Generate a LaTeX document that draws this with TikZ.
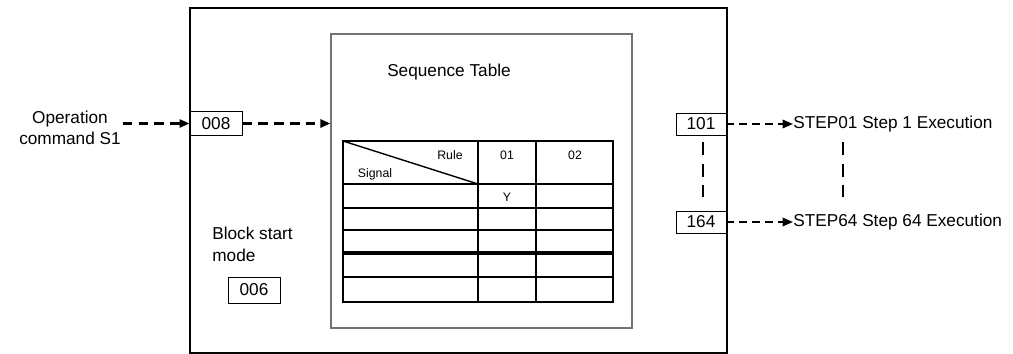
\documentclass[tikz,border=0pt]{standalone}
\usepackage{fontspec}
\setmainfont{Liberation Sans}
\usetikzlibrary{arrows.meta, positioning, calc}
\tikzset{
  every picture/.style={font=\fontsize{9.8}{12}\selectfont},
  numbox/.style={draw, line width=0.5pt, inner sep=0pt, minimum width=#1, minimum height=0.48cm},
  numbox/.default=1.04cm,
  frame/.style={draw, line width=0.9pt, inner sep=0pt},
  tblline/.style={line width=1.1pt},
  small/.style={font=\fontsize{7}{8}\selectfont, inner sep=0pt},
  inarrow/.style={-{Triangle[length=2mm, width=1.6mm]}, line width=1.5pt, dash pattern=on 5.5pt off 3.5pt},
  outarrow/.style={-{Triangle[length=2.1mm, width=1.7mm]}, line width=1pt, dash pattern=on 4.5pt off 2.8pt},
  vdots/.style={line width=1.5pt, dash pattern=on 7.4pt off 4.6pt},
}

\begin{document}
\begin{tikzpicture}[x=0.02cm, y=-0.02cm]
  \useasboundingbox (0,0) rectangle (1013,354);
  % block and sequence table frames
  \node[frame, minimum width=10.74cm, minimum height=6.9cm] (blk) at (458.5,180.5) {};
  \node[frame, draw=black!55, line width=0.7pt, minimum width=6.02cm, minimum height=5.88cm] (seq) at (481.5,181) {};
  \node (seqlbl) at (449,72) {Sequence Table};
  % the table
  \draw[tblline] (343,141) rectangle (613,302);
  \foreach \y in {184,208,230,277} \draw[tblline] (343,\y) -- (613,\y);
  \draw[tblline, line width=2pt] (343,253) -- (613,253);
  \foreach \x in {478,536} \draw[tblline] (\x,141) -- (\x,302);
  \draw[line width=0.8pt] (343,141) -- (478,184);
  \node[small] (rule) at (450,155) {Rule};
  \node[small] (sig) at (375,174) {Signal};
  \node[small] (c01) at (507,155) {01};
  \node[small] (c02) at (575,155) {02};
  \node[small] (y01) at (507,197) {Y};
  % input side
  \node[align=center, inner sep=1pt] (op) at (70,128) {Operation\\command S1};
  \node[numbox] (b008) at (216,123.5) {008};
  \draw[inarrow] (op.east |- b008) -- (b008.west);
  \draw[inarrow] (b008.east) -- (b008 -| seq.west);
  \node[align=left, anchor=west, inner sep=0pt, font=\fontsize{9.8}{12.6}\selectfont] (bsm) at (212,244) {Block start\\mode};
  \node[numbox, minimum height=0.52cm] (b006) at (254,290) {006};
  % output side
  \node[numbox=1.0cm, minimum height=0.44cm] (b101) at (701,124) {101};
  \node[numbox=1.0cm, minimum height=0.44cm] (b164) at (701,222) {164};
  \node[anchor=west, inner sep=0pt] (st1) at (793,124) {STEP01 Step 1 Execution};
  \node[anchor=west, inner sep=0pt] (st64) at (793,222) {STEP64 Step 64 Execution};
  \draw[outarrow] (b101.east) -- (st1.west);
  \draw[outarrow] (b164.east) -- (st64.west);
  \draw[vdots] ([xshift=0.04cm, yshift=-0.14cm]b101.south) -- ([xshift=0.04cm, yshift=0.28cm]b164.north);
  \draw[vdots] ([xshift=1cm]st1.west |- b101.south) ++(0,7) -- ([xshift=1cm, yshift=0.28cm]st64.west |- b164.north);
\end{tikzpicture}
\end{document}
